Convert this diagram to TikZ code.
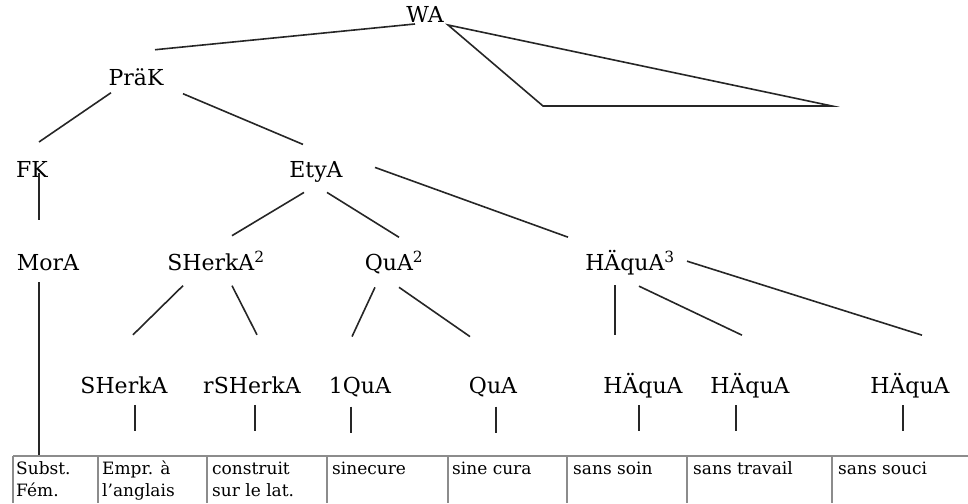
\documentclass[tikz,border=0pt]{standalone}
\usepackage{fontspec}
\setmainfont{DejaVu Serif}
\usetikzlibrary{calc}
\begin{document}
\begin{tikzpicture}[x=1pt,y=-1pt,
  lab/.style={anchor=base,inner sep=0pt,font=\fontsize{22}{26}\selectfont},
  edge/.style={line width=1.6pt,draw=black!85},
  tickmark/.style={line width=1.6pt,draw=black!85},
  cell/.style={anchor=base west,inner sep=0pt,font=\fontsize{17}{20}\selectfont},
  gridline/.style={line width=1.1pt,draw=black!45}]
\useasboundingbox (0,0) rectangle (968,503);
% tree labels
\node[lab] (WA) at (425,23) {WA};
\node[lab] (PK) at (136,85) {PräK};
\node[lab] (FK) at (32,177) {FK};
\node[lab] (EA) at (316,177) {EtyA};
\node[lab] (MA) at (48,270) {MorA};
\node[lab] (SH2) at (216,270) {SHerkA\textsuperscript{2}};
\node[lab] (QA2) at (394,270) {QuA\textsuperscript{2}};
\node[lab] (HA3) at (630,270) {HÄquA\textsuperscript{3}};
\node[lab] (SH) at (124,393) {SHerkA};
\node[lab] (RSH) at (252,393) {rSHerkA};
\node[lab] (OQ) at (360,393) {1QuA};
\node[lab] (QA) at (493,393) {QuA};
\node[lab] (H1) at (643,393) {HÄquA};
\node[lab] (H2) at (750,393) {HÄquA};
\node[lab] (H3) at (910,393) {HÄquA};
\coordinate (tt) at (39,456);
% edges
\draw[edge] ($(WA)+(-10,9)$) -- ($(PK)+(19,-27)$);
\draw[edge,line join=miter] ($(WA)+(23,10)$) -- (543,106) -- (832,106) -- cycle;
\draw[edge] ($(PK)+(-25,16)$) -- ($(FK)+(7,-27)$);
\draw[edge] ($(PK)+(47,17)$) -- ($(EA)+(-13,-27)$);
\draw[edge] ($(FK)+(7,4)$) -- ($(MA)+(-9,-42)$);
\draw[edge] ($(MA)+(-9,20)$) -- (tt);
\draw[edge] ($(EA)+(-12,21)$) -- ($(SH2)+(16,-25)$);
\draw[edge] ($(EA)+(11,21)$) -- ($(QA2)+(5,-25)$);
\draw[edge] ($(EA)+(59,-4)$) -- ($(HA3)+(-62,-25)$);
\draw[edge] ($(SH2)+(-33,25)$) -- ($(SH)+(9,-50)$);
\draw[edge] ($(SH2)+(16,25)$) -- ($(RSH)+(5,-50)$);
\draw[edge] ($(QA2)+(-19,25)$) -- ($(OQ)+(-8,-50)$);
\draw[edge] ($(QA2)+(5,25)$) -- ($(QA)+(-23,-50)$);
\draw[edge] ($(HA3)+(-15,23)$) -- ($(H1)+(-28,-50)$);
\draw[edge] ($(HA3)+(9,24)$) -- ($(H2)+(-8,-50)$);
\draw[edge] ($(HA3)+(57,-1)$) -- ($(H3)+(12,-50)$);
% ticks
\draw[tickmark] ($(SH)+(11,20)$) -- ($(SH)+(11,46)$);
\draw[tickmark] ($(RSH)+(3,20)$) -- ($(RSH)+(3,46)$);
\draw[tickmark] ($(OQ)+(-9,20)$) -- ($(OQ)+(-9,46)$);
\draw[tickmark] ($(QA)+(3,20)$) -- ($(QA)+(3,46)$);
\draw[tickmark] ($(H1)+(-4,20)$) -- ($(H1)+(-4,46)$);
\draw[tickmark] ($(H2)+(-14,20)$) -- ($(H2)+(-14,46)$);
\draw[tickmark] ($(H3)+(-7,20)$) -- ($(H3)+(-7,46)$);
% table
\draw[gridline] (13,456) -- (968,456);
\foreach \cx in {13,98,207,327,448,567,687,832}{
  \draw[gridline] (\cx,456) -- (\cx,503);
}
\node[cell] (c1a) at (16,474) {Subst.};
\node[cell] (c1b) at (16,496) {Fém.};
\node[cell] (c2a) at (102,474) {Empr. à};
\node[cell] (c2b) at (102,496) {l’anglais};
\node[cell] (c3a) at (212,474) {construit};
\node[cell] (c3b) at (212,496) {sur le lat.};
\node[cell] (c4) at (332,474) {sinecure};
\node[cell] (c5) at (452,474) {sine cura};
\node[cell] (c6) at (573,474) {sans soin};
\node[cell] (c7) at (693,474) {sans travail};
\node[cell] (c8) at (838,474) {sans souci};
\end{tikzpicture}
\end{document}
